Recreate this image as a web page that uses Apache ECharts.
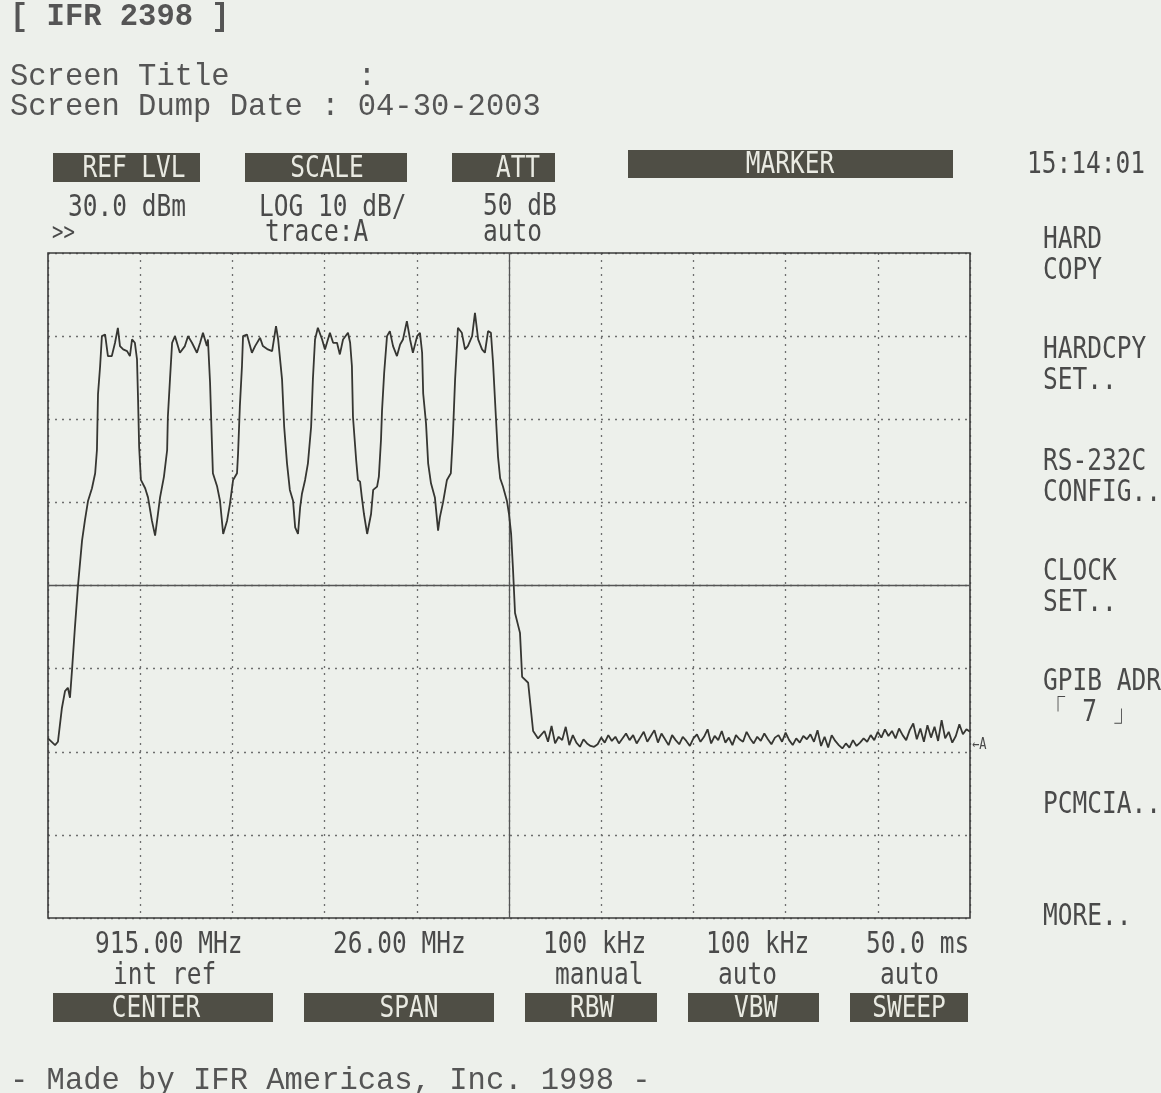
<!DOCTYPE html>
<html>
<head>
<meta charset="utf-8">
<script src="https://cdn.jsdelivr.net/npm/echarts@6/dist/echarts.min.js"></script>
<style>
  html, body { margin: 0; padding: 0; background: #edf0eb; }
  #chart { width: 1161px; height: 1093px; }
</style>
</head>
<body>
<div id="chart"></div>
<script>
// ---------------- DATA ----------------
// Spectrum analyser settings
const refLevelDbm = 30;         // top of screen
const dbPerDiv = 10;
const verticalDivs = 8;
const centerMHz = 915.00;
const spanMHz = 26.00;
const horizontalDivs = 10;

// Trace A: [frequency MHz, level dBm] – channels section
const signalTrace = [
  [902.00,-28.4],[902.20,-29.2],[902.28,-28.8],[902.39,-24.8],[902.48,-22.7],[902.56,-22.3],[902.62,-23.5],[902.68,-20.0],
  [902.76,-15.0],[902.85,-9.8],[902.96,-4.6],[903.04,-2.2],[903.13,0.2],[903.24,1.7],[903.33,3.5],[903.38,6.3],
  [903.41,13.0],[903.47,16.4],[903.52,20.0],[903.61,20.2],[903.69,17.6],[903.80,17.6],[903.89,19.2],[903.97,21.0],
  [904.03,18.8],[904.12,18.4],[904.23,18.2],[904.31,17.6],[904.37,19.6],[904.45,19.2],[904.51,17.2],[904.54,12.3],
  [904.57,6.7],[904.62,2.7],[904.74,1.7],[904.82,0.6],[904.93,-2.2],[905.02,-4.0],[905.10,-1.4],[905.16,0.6],
  [905.27,3.1],[905.36,6.3],[905.38,10.3],[905.44,14.8],[905.50,19.2],[905.58,20.0],[905.72,18.0],[905.86,18.8],
  [905.95,20.0],[906.06,19.2],[906.20,18.0],[906.29,19.2],[906.37,20.4],[906.48,18.8],[906.51,19.6],[906.57,14.4],
  [906.62,7.5],[906.65,3.5],[906.77,1.9],[906.85,0.2],[906.94,-3.8],[907.05,-2.2],[907.13,-0.2],[907.22,2.7],
  [907.33,3.5],[907.36,5.9],[907.41,11.5],[907.47,16.4],[907.50,20.0],[907.61,20.2],[907.75,18.0],[907.84,18.8],
  [907.98,19.8],[908.06,18.8],[908.20,18.4],[908.32,18.2],[908.43,21.2],[908.49,19.6],[908.60,14.8],[908.66,9.1],
  [908.74,4.7],[908.82,1.5],[908.91,0.2],[908.97,-3.0],[909.05,-3.8],[909.11,-0.6],[909.16,1.0],[909.25,2.7],
  [909.33,4.7],[909.42,9.1],[909.47,14.8],[909.53,19.6],[909.61,21.0],[909.73,19.6],[909.81,18.4],[909.95,20.4],
  [910.04,19.2],[910.15,19.2],[910.23,17.8],[910.32,19.6],[910.46,20.4],[910.52,19.2],[910.57,16.4],[910.60,10.3],
  [910.69,5.1],[910.74,2.7],[910.80,2.5],[910.85,0.6],[910.91,-1.4],[911.00,-3.8],[911.11,-1.4],[911.17,1.5],
  [911.28,1.9],[911.33,3.1],[911.39,7.5],[911.42,11.1],[911.48,15.6],[911.56,20.0],[911.64,20.6],[911.73,18.8],
  [911.84,17.6],[911.93,19.0],[912.01,19.6],[912.12,21.8],[912.21,19.6],[912.29,18.0],[912.41,20.0],[912.49,20.4],
  [912.55,18.0],[912.58,13.1],[912.66,9.5],[912.72,4.7],[912.80,2.3],[912.91,0.6],[913.00,-3.4],[913.05,-1.8],
  [913.14,0.0],[913.25,2.7],[913.36,3.5],[913.42,8.3],[913.48,14.8],[913.56,21.0],[913.67,20.4],[913.76,18.4],
  [913.84,18.8],[913.96,20.0],[914.04,22.8],[914.13,19.6],[914.24,18.4],[914.32,18.0],[914.41,20.6],[914.49,20.4],
  [914.55,16.8],[914.63,10.3],[914.69,5.5],[914.75,2.9],[914.83,1.9],[914.94,0.2],[915.00,-1.4],[915.06,-3.8],
  [915.11,-7.8],[915.17,-13.3],[915.31,-15.7],[915.37,-21.0],[915.54,-21.7],[915.68,-27.5],[915.82,-28.4]
];

// Trace A: noise floor section
const noiseFreqMHz = [
  916.0,916.1,916.2,916.3,916.4,916.5,916.6,916.7,916.8,916.9,
  917.0,917.1,917.2,917.3,917.4,917.5,917.6,917.7,917.8,917.9,
  918.0,918.1,918.2,918.3,918.4,918.5,918.6,918.7,918.8,918.9,
  919.0,919.1,919.2,919.3,919.4,919.5,919.6,919.7,919.8,919.9,
  920.0,920.1,920.2,920.3,920.4,920.5,920.6,920.7,920.8,920.9,
  921.0,921.1,921.2,921.3,921.4,921.5,921.6,921.7,921.8,921.9,
  922.0,922.1,922.2,922.3,922.4,922.5,922.6,922.7,922.8,922.9,
  923.0,923.1,923.2,923.3,923.4,923.5,923.6,923.7,923.8,923.9,
  924.0,924.1,924.2,924.3,924.4,924.5,924.6,924.7,924.8,924.9,
  925.0,925.1,925.2,925.3,925.4,925.5,925.6,925.7,925.8,925.9,
  926.0,926.1,926.2,926.3,926.4,926.5,926.6,926.7,926.8,926.9,
  927.0,927.1,927.2,927.3,927.4,927.5,927.6,927.7,927.8,927.9,
  928.0
];
const noiseLevelDbm = [
  -27.5,-28.8,-26.9,-29.0,-28.2,
  -28.6,-27.0,-29.2,-28.0,-28.9,-29.4,-28.5,-29.0,-29.3,
  -29.4,-29.1,-28.3,-28.9,-28.0,-28.7,-28.2,-29.0,-28.4,
  -27.8,-28.6,-28.0,-29.0,-28.3,-27.6,-28.8,-28.1,-27.4,-28.9,-27.8,-28.5,-29.2,-28.0,-28.6,-29.1,-28.2,
  -28.7,-29.3,-28.4,-27.9,-28.8,-28.2,-27.3,-29.0,-28.1,-28.6,-27.5,-28.9,-28.3,-29.2,-28.0,-28.5,-28.8,
  -27.6,-28.4,-29.0,-28.2,-28.7,-27.8,-28.5,-29.1,-28.3,-28.0,-28.8,-27.7,-28.6,-29.2,-28.4,-28.9,-28.1,
  -28.5,-27.9,-28.8,-27.4,-29.3,-28.2,-29.5,-28.0,-28.7,
  -29.2,-29.6,-29.0,-29.5,-28.6,-29.3,-28.9,-28.4,-28.8,
  -28.0,-28.6,-27.6,-28.3,-27.3,-28.1,-27.5,-28.4,-27.2,-28.0,-28.6,-27.4,
  -26.6,-28.5,-27.2,-28.8,-26.8,-28.3,-27.0,-28.7,-26.2,-28.4,-27.6,-28.9,
  -28.1,-26.7,-27.9,-27.3,-27.6
];

// Screen texts
const headerLines = ['Screen Title       :', 'Screen Dump Date : 04-30-2003'];
const topKeys = ['REF LVL', 'SCALE', 'ATT', 'MARKER'];
const bottomKeys = ['CENTER', 'SPAN', 'RBW', 'VBW', 'SWEEP'];
const bottomValues = ['915.00 MHz', '26.00 MHz', '100 kHz', '100 kHz', '50.0 ms'];
const bottomModes = ['int ref', '', 'manual', 'auto', 'auto'];
const softKeys = [['HARD', 'COPY'], ['HARDCPY', 'SET..'], ['RS-232C', 'CONFIG..'], ['CLOCK', 'SET..'], ['GPIB ADR', '「 7 」'], ['PCMCIA..'], ['MORE..']];

// ---------------- LAYOUT / STYLE ----------------
const G = { left: 48, top: 253, width: 922, height: 665 };
const INK = '#4a4a4a';
const BOX = '#4f4e45';
const BOXTXT = '#e9eae2';
const MONO = '"DejaVu Sans Mono", "Liberation Mono", monospace';

function t(text, x, y, opt) {
  opt = opt || {};
  return {
    type: 'text', x: x, y: y, silent: true,
    scaleX: opt.sx != null ? opt.sx : 0.79,
    z: 20,
    style: {
      text: text,
      font: (opt.weight || 'normal') + ' ' + (opt.size || 31) + 'px ' + (opt.family || MONO),
      fill: opt.fill || INK,
      textAlign: opt.align || 'left',
      textVerticalAlign: 'middle'
    }
  };
}
function box(x, y, w, h) {
  return { type: 'rect', silent: true, z: 10, shape: { x: x, y: y, width: w, height: h }, style: { fill: BOX } };
}

const graphics = [];
// Header (printer) texts
const COUR = '"Liberation Mono", "Courier New", monospace';
graphics.push(t('[ IFR 2398 ]', 10, 17, { family: COUR, size: 30.5, weight: 'bold', sx: 1, fill: '#555' }));
graphics.push(t(headerLines[0], 10, 77, { family: COUR, size: 30.5, sx: 1, fill: '#555' }));
graphics.push(t(headerLines[1], 10, 107, { family: COUR, size: 30.5, sx: 1, fill: '#555' }));
graphics.push(t('- Made by IFR Americas, Inc. 1998 -', 10, 1081, { family: COUR, size: 30.5, sx: 1, fill: '#555' }));

// Top key boxes
const topBoxes = [[53, 153, 147, 29, 134], [245, 153, 162, 29, 327], [452, 153, 103, 29, 518], [628, 150, 325, 28, 790]];
topBoxes.forEach((b, i) => {
  graphics.push(box(b[0], b[1], b[2], b[3]));
  graphics.push(t(topKeys[i], b[4], b[1] + b[3] / 2 + 1, { align: 'center', fill: BOXTXT }));
});
graphics.push(t('30.0 dBm', 68, 208));
graphics.push(t('>>', 52, 234, { size: 24 }));
graphics.push(t('LOG 10 dB/', 259, 208));
graphics.push(t('trace:A', 265, 233));
graphics.push(t('50 dB', 483, 207));
graphics.push(t('auto', 483, 233));
graphics.push(t('15:14:01', 1027, 165));

// Soft keys on the right
const softY = [240, 350, 462, 572, 682, 805, 917];
softKeys.forEach((lines, i) => {
  lines.forEach((s, j) => graphics.push(t(s, 1043, softY[i] + j * 31)));
});

// Bottom values / modes / keys
const bottomValX = [95, 333, 543, 706, 866];
const bottomModeX = [113, 0, 555, 718, 880];
bottomValues.forEach((s, i) => graphics.push(t(s, bottomValX[i], 945)));
bottomModes.forEach((s, i) => { if (s) graphics.push(t(s, bottomModeX[i], 976)); });
const bottomBoxes = [[53, 993, 220, 29, 156], [304, 993, 190, 29, 409], [525, 993, 132, 29, 592], [688, 993, 131, 29, 756], [850, 993, 118, 29, 909]];
bottomBoxes.forEach((b, i) => {
  graphics.push(box(b[0], b[1], b[2], b[3]));
  graphics.push(t(bottomKeys[i], b[4], b[1] + b[3] / 2 + 1, { align: 'center', fill: BOXTXT }));
});
// trace end marker
graphics.push(t('←A', 972, 745, { size: 15, sx: 0.8 }));

// ---------------- CHART ----------------
const startMHz = centerMHz - spanMHz / 2;
const stopMHz = centerMHz + spanMHz / 2;
const bottomDbm = refLevelDbm - dbPerDiv * verticalDivs;
const traceData = signalTrace.concat(noiseFreqMHz.map((f, i) => [f, noiseLevelDbm[i]]));

const dotted = { color: '#6e6e6e', width: 1.3, type: [2, 5] };

const chart = echarts.init(document.getElementById('chart'), null, { renderer: 'canvas' });
chart.setOption({
  backgroundColor: '#edf0eb',
  animation: false,
  grid: { left: G.left, top: G.top, width: G.width, height: G.height, show: true,
          borderColor: '#3b3b3b', borderWidth: 1.6, backgroundColor: 'transparent', z: 5 },
  xAxis: [
    { type: 'value', min: startMHz, max: stopMHz, show: true,
      axisLine: { show: false }, axisTick: { show: false }, axisLabel: { show: false }, splitLine: { show: false } },
    { type: 'value', min: 0, max: horizontalDivs, interval: 1, position: 'top',
      axisLine: { show: false }, axisTick: { show: false }, axisLabel: { show: false },
      splitLine: { show: true, lineStyle: dotted } }
  ],
  yAxis: { type: 'value', min: bottomDbm, max: refLevelDbm, interval: dbPerDiv,
    axisLine: { show: false }, axisTick: { show: false }, axisLabel: { show: false },
    splitLine: { show: true, lineStyle: dotted } },
  graphic: graphics,
  series: [{
    type: 'line', xAxisIndex: 0, yAxisIndex: 0, data: traceData,
    showSymbol: false, symbol: 'none', silent: true, z: 8,
    lineStyle: { color: '#363632', width: 1.8 },
    markLine: {
      silent: true, symbol: 'none', label: { show: false },
      lineStyle: { color: '#555', width: 1.3, type: 'solid' },
      data: [{ xAxis: centerMHz }, { yAxis: refLevelDbm - dbPerDiv * verticalDivs / 2 }]
    }
  }]
});
</script>
</body>
</html>
